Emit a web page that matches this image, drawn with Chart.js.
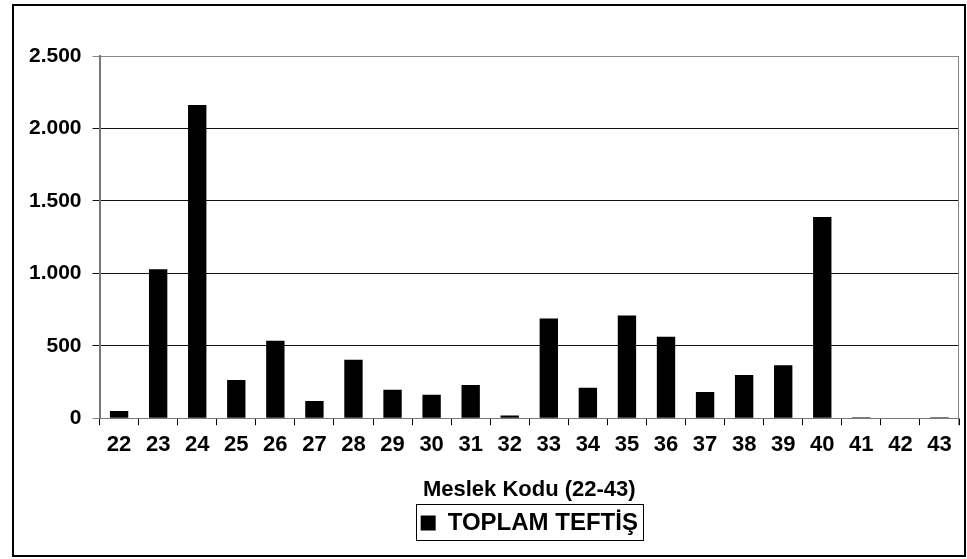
<!DOCTYPE html>
<html>
<head>
<meta charset="utf-8">
<script src="https://cdn.jsdelivr.net/npm/chart.js@4"></script>
<style>
  html, body { margin: 0; padding: 0; background: #fff; }
  #wrap { width: 967px; height: 559px; position: relative; }
</style>
</head>
<body>
<div id="wrap"><canvas id="chart" width="967" height="559"></canvas></div>
<script>
// Meslek kodlarina gore toplam teftis
const categories = ['22','23','24','25','26','27','28','29','30','31','32','33','34','35','36','37','38','39','40','41','42','43'];
const toplamTeftis = [50, 1028, 2162, 264, 535, 118, 403, 197, 162, 229, 19, 688, 210, 708, 563, 180, 299, 366, 1389, 7, 0, 7];
const yTicks = [0, 500, 1000, 1500, 2000, 2500];

const FONT = "Arial, 'Liberation Sans', sans-serif";

// outer frame, right border of plot, box round the legend
const framePlugin = {
  id: 'frame',
  afterDraw(chart) {
    const ctx = chart.ctx;
    const area = chart.chartArea;
    ctx.save();
    ctx.strokeStyle = '#000';
    ctx.lineWidth = 2;
    ctx.strokeRect(13, 5, 952, 551);

    ctx.lineWidth = 1;
    ctx.strokeStyle = '#888';
    ctx.beginPath();
    ctx.moveTo(Math.round(area.right) - 0.5, area.top);
    ctx.lineTo(Math.round(area.right) - 0.5, area.bottom + 7);
    ctx.stroke();

    const hit = chart.legend.legendHitBoxes[0];
    if (hit) {
      ctx.strokeStyle = '#000';
      ctx.strokeRect(Math.round(hit.left) - 4.5, Math.round(hit.top) - 6.5, Math.round(hit.width) + 10, Math.round(hit.height) + 12);
    }
    ctx.restore();
  }
};

new Chart(document.getElementById('chart'), {
  type: 'bar',
  data: {
    labels: categories,
    datasets: [{
      label: 'TOPLAM TEFTİŞ',
      data: toplamTeftis,
      backgroundColor: '#000',
      borderColor: '#000',
      borderWidth: 0,
      barPercentage: 0.47,
      categoryPercentage: 1
    }]
  },
  options: {
    responsive: false,
    animation: false,
    layout: { padding: { left: 18, right: 8, top: 56, bottom: 14 } },
    plugins: {
      legend: {
        position: 'bottom',
        fullSize: false,
        labels: {
          color: '#000',
          font: { family: FONT, size: 24, weight: 'bold' },
          boxWidth: 15,
          boxHeight: 15,
          padding: 5
        }
      },
      tooltip: { enabled: false }
    },
    scales: {
      x: {
        grid: { drawOnChartArea: false, drawTicks: true, tickLength: 7, color: '#000', offset: true },
        border: { color: '#777', width: 1 },
        ticks: { color: '#000', font: { family: FONT, size: 22, weight: 'bold' }, padding: 7, maxRotation: 0 },
        title: {
          display: true,
          text: 'Meslek Kodu (22-43)',
          color: '#000',
          font: { family: FONT, size: 22, weight: 'bold' },
          padding: { top: 11, bottom: 3 }
        }
      },
      y: {
        min: 0,
        max: 2500,
        afterBuildTicks(axis) { axis.ticks = yTicks.map(v => ({ value: v })); },
        grid: {
          color: ctx => (ctx.tick && (ctx.tick.value === 2500 || ctx.tick.value === 0)) ? '#888' : '#111',
          lineWidth: 1,
          tickLength: 7,
          drawTicks: true
        },
        border: { color: '#777', width: 2 },
        ticks: {
          color: '#000',
          font: { family: FONT, size: 21, weight: 'bold' },
          padding: 11,
          callback: v => v.toLocaleString('de-DE')
        }
      }
    }
  },
  plugins: [framePlugin]
});
</script>
</body>
</html>
